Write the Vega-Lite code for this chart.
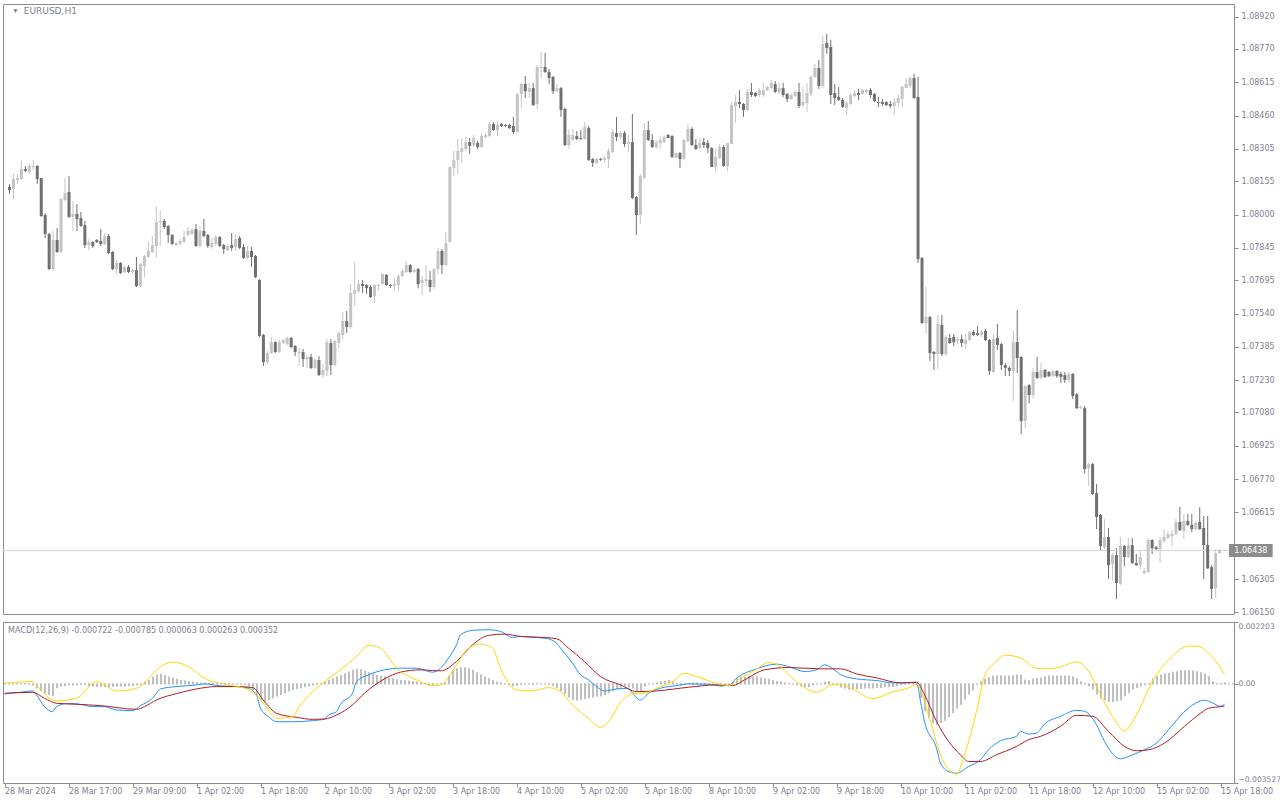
{
"$schema": "https://vega.github.io/schema/vega-lite/v6.json",
"background": "white",
"padding": {"left": 2, "top": 3, "right": 0, "bottom": 0},
"spacing": 4,
"config": {
  "view": {"stroke": "#8c8c8c", "strokeWidth": 1},
  "font": "DejaVu Sans",
  "axis": {"labelFont": "DejaVu Sans", "labelFontSize": 8, "labelColor": "#80808f", "tickColor": "#8c8c8c", "domain": false, "grid": false, "title": null, "tickSize": 4, "labelBound": false, "labelOverlap": false}
},
"datasets": {
"one": [{"k": 1}],
"candles": [
{"i":0,"o":1.08128,"h":1.08142,"l":1.08096,"c":1.08114},
{"i":1,"o":1.08119,"h":1.08189,"l":1.08072,"c":1.08165},
{"i":2,"o":1.08161,"h":1.08189,"l":1.08142,"c":1.08170},
{"i":3,"o":1.08165,"h":1.08249,"l":1.08161,"c":1.08212},
{"i":4,"o":1.08212,"h":1.08226,"l":1.08198,"c":1.08203},
{"i":5,"o":1.08198,"h":1.08235,"l":1.08189,"c":1.08226},
{"i":6,"o":1.08221,"h":1.08254,"l":1.08207,"c":1.08226},
{"i":7,"o":1.08226,"h":1.08230,"l":1.08142,"c":1.08165},
{"i":8,"o":1.08170,"h":1.08170,"l":1.07989,"c":1.07993},
{"i":9,"o":1.07998,"h":1.08007,"l":1.07891,"c":1.07910},
{"i":10,"o":1.07910,"h":1.07914,"l":1.07742,"c":1.07747},
{"i":11,"o":1.07747,"h":1.07924,"l":1.07738,"c":1.07882},
{"i":12,"o":1.07882,"h":1.07937,"l":1.07821,"c":1.07826},
{"i":13,"o":1.07826,"h":1.08077,"l":1.07821,"c":1.08072},
{"i":14,"o":1.08068,"h":1.08170,"l":1.08063,"c":1.08100},
{"i":15,"o":1.08105,"h":1.08179,"l":1.07984,"c":1.07989},
{"i":16,"o":1.07989,"h":1.08063,"l":1.07924,"c":1.08003},
{"i":17,"o":1.08003,"h":1.08049,"l":1.07924,"c":1.07979},
{"i":18,"o":1.07984,"h":1.08012,"l":1.07942,"c":1.07947},
{"i":19,"o":1.07951,"h":1.07970,"l":1.07845,"c":1.07858},
{"i":20,"o":1.07858,"h":1.07886,"l":1.07835,"c":1.07872},
{"i":21,"o":1.07872,"h":1.07877,"l":1.07845,"c":1.07854},
{"i":22,"o":1.07882,"h":1.07886,"l":1.07868,"c":1.07872},
{"i":23,"o":1.07877,"h":1.07933,"l":1.07854,"c":1.07863},
{"i":24,"o":1.07863,"h":1.07914,"l":1.07858,"c":1.07900},
{"i":25,"o":1.07900,"h":1.07910,"l":1.07817,"c":1.07821},
{"i":26,"o":1.07826,"h":1.07831,"l":1.07742,"c":1.07747},
{"i":27,"o":1.07747,"h":1.07789,"l":1.07724,"c":1.07775},
{"i":28,"o":1.07775,"h":1.07779,"l":1.07724,"c":1.07728},
{"i":29,"o":1.07733,"h":1.07761,"l":1.07728,"c":1.07756},
{"i":30,"o":1.07756,"h":1.07765,"l":1.07728,"c":1.07733},
{"i":31,"o":1.07733,"h":1.07747,"l":1.07728,"c":1.07742},
{"i":32,"o":1.07742,"h":1.07803,"l":1.07663,"c":1.07668},
{"i":33,"o":1.07668,"h":1.07775,"l":1.07663,"c":1.07770},
{"i":34,"o":1.07761,"h":1.07812,"l":1.07709,"c":1.07807},
{"i":35,"o":1.07803,"h":1.07877,"l":1.07798,"c":1.07831},
{"i":36,"o":1.07826,"h":1.07900,"l":1.07821,"c":1.07858},
{"i":37,"o":1.07854,"h":1.08040,"l":1.07798,"c":1.07965},
{"i":38,"o":1.07965,"h":1.08017,"l":1.07854,"c":1.07970},
{"i":39,"o":1.07970,"h":1.07979,"l":1.07933,"c":1.07942},
{"i":40,"o":1.07947,"h":1.07951,"l":1.07868,"c":1.07905},
{"i":41,"o":1.07905,"h":1.07910,"l":1.07858,"c":1.07863},
{"i":42,"o":1.07858,"h":1.07872,"l":1.07854,"c":1.07868},
{"i":43,"o":1.07863,"h":1.07886,"l":1.07858,"c":1.07877},
{"i":44,"o":1.07872,"h":1.07924,"l":1.07868,"c":1.07896},
{"i":45,"o":1.07905,"h":1.07942,"l":1.07900,"c":1.07924},
{"i":46,"o":1.07910,"h":1.07937,"l":1.07905,"c":1.07928},
{"i":47,"o":1.07933,"h":1.07956,"l":1.07849,"c":1.07854},
{"i":48,"o":1.07854,"h":1.07947,"l":1.07845,"c":1.07924},
{"i":49,"o":1.07924,"h":1.07979,"l":1.07896,"c":1.07900},
{"i":50,"o":1.07905,"h":1.07910,"l":1.07845,"c":1.07854},
{"i":51,"o":1.07849,"h":1.07891,"l":1.07840,"c":1.07868},
{"i":52,"o":1.07863,"h":1.07905,"l":1.07854,"c":1.07896},
{"i":53,"o":1.07896,"h":1.07900,"l":1.07849,"c":1.07854},
{"i":54,"o":1.07858,"h":1.07863,"l":1.07817,"c":1.07840},
{"i":55,"o":1.07835,"h":1.07863,"l":1.07831,"c":1.07854},
{"i":56,"o":1.07858,"h":1.07914,"l":1.07831,"c":1.07845},
{"i":57,"o":1.07849,"h":1.07910,"l":1.07831,"c":1.07886},
{"i":58,"o":1.07891,"h":1.07900,"l":1.07840,"c":1.07845},
{"i":59,"o":1.07849,"h":1.07863,"l":1.07793,"c":1.07798},
{"i":60,"o":1.07798,"h":1.07854,"l":1.07793,"c":1.07831},
{"i":61,"o":1.07831,"h":1.07849,"l":1.07756,"c":1.07803},
{"i":62,"o":1.07807,"h":1.07812,"l":1.07705,"c":1.07709},
{"i":63,"o":1.07696,"h":1.07700,"l":1.07431,"c":1.07435},
{"i":64,"o":1.07440,"h":1.07445,"l":1.07296,"c":1.07314},
{"i":65,"o":1.07314,"h":1.07366,"l":1.07305,"c":1.07356},
{"i":66,"o":1.07356,"h":1.07431,"l":1.07352,"c":1.07407},
{"i":67,"o":1.07407,"h":1.07412,"l":1.07356,"c":1.07361},
{"i":68,"o":1.07361,"h":1.07417,"l":1.07356,"c":1.07407},
{"i":69,"o":1.07403,"h":1.07421,"l":1.07398,"c":1.07417},
{"i":70,"o":1.07398,"h":1.07431,"l":1.07393,"c":1.07426},
{"i":71,"o":1.07426,"h":1.07431,"l":1.07379,"c":1.07384},
{"i":72,"o":1.07389,"h":1.07393,"l":1.07342,"c":1.07361},
{"i":73,"o":1.07356,"h":1.07379,"l":1.07296,"c":1.07361},
{"i":74,"o":1.07361,"h":1.07375,"l":1.07291,"c":1.07328},
{"i":75,"o":1.07328,"h":1.07347,"l":1.07287,"c":1.07338},
{"i":76,"o":1.07338,"h":1.07352,"l":1.07282,"c":1.07287},
{"i":77,"o":1.07287,"h":1.07333,"l":1.07282,"c":1.07324},
{"i":78,"o":1.07324,"h":1.07342,"l":1.07249,"c":1.07254},
{"i":79,"o":1.07254,"h":1.07305,"l":1.07240,"c":1.07277},
{"i":80,"o":1.07273,"h":1.07421,"l":1.07249,"c":1.07407},
{"i":81,"o":1.07403,"h":1.07421,"l":1.07254,"c":1.07300},
{"i":82,"o":1.07300,"h":1.07417,"l":1.07296,"c":1.07412},
{"i":83,"o":1.07403,"h":1.07454,"l":1.07379,"c":1.07449},
{"i":84,"o":1.07440,"h":1.07547,"l":1.07421,"c":1.07505},
{"i":85,"o":1.07505,"h":1.07552,"l":1.07449,"c":1.07477},
{"i":86,"o":1.07477,"h":1.07677,"l":1.07468,"c":1.07635},
{"i":87,"o":1.07631,"h":1.07779,"l":1.07575,"c":1.07649},
{"i":88,"o":1.07644,"h":1.07696,"l":1.07635,"c":1.07677},
{"i":89,"o":1.07677,"h":1.07696,"l":1.07635,"c":1.07668},
{"i":90,"o":1.07672,"h":1.07677,"l":1.07631,"c":1.07658},
{"i":91,"o":1.07663,"h":1.07672,"l":1.07612,"c":1.07617},
{"i":92,"o":1.07621,"h":1.07677,"l":1.07589,"c":1.07672},
{"i":93,"o":1.07668,"h":1.07677,"l":1.07649,"c":1.07672},
{"i":94,"o":1.07677,"h":1.07724,"l":1.07672,"c":1.07724},
{"i":95,"o":1.07719,"h":1.07724,"l":1.07668,"c":1.07672},
{"i":96,"o":1.07672,"h":1.07677,"l":1.07658,"c":1.07668},
{"i":97,"o":1.07668,"h":1.07705,"l":1.07644,"c":1.07677},
{"i":98,"o":1.07672,"h":1.07724,"l":1.07649,"c":1.07714},
{"i":99,"o":1.07714,"h":1.07747,"l":1.07709,"c":1.07738},
{"i":100,"o":1.07733,"h":1.07784,"l":1.07728,"c":1.07765},
{"i":101,"o":1.07765,"h":1.07770,"l":1.07728,"c":1.07733},
{"i":102,"o":1.07733,"h":1.07751,"l":1.07728,"c":1.07742},
{"i":103,"o":1.07747,"h":1.07751,"l":1.07658,"c":1.07677},
{"i":104,"o":1.07682,"h":1.07714,"l":1.07626,"c":1.07696},
{"i":105,"o":1.07691,"h":1.07765,"l":1.07668,"c":1.07700},
{"i":106,"o":1.07696,"h":1.07738,"l":1.07640,"c":1.07663},
{"i":107,"o":1.07663,"h":1.07751,"l":1.07654,"c":1.07747},
{"i":108,"o":1.07747,"h":1.07845,"l":1.07724,"c":1.07831},
{"i":109,"o":1.07831,"h":1.07840,"l":1.07724,"c":1.07765},
{"i":110,"o":1.07765,"h":1.07919,"l":1.07761,"c":1.07868},
{"i":111,"o":1.07872,"h":1.08226,"l":1.07872,"c":1.08221},
{"i":112,"o":1.08216,"h":1.08296,"l":1.08179,"c":1.08254},
{"i":113,"o":1.08254,"h":1.08351,"l":1.08189,"c":1.08296},
{"i":114,"o":1.08291,"h":1.08356,"l":1.08240,"c":1.08309},
{"i":115,"o":1.08305,"h":1.08361,"l":1.08296,"c":1.08337},
{"i":116,"o":1.08337,"h":1.08356,"l":1.08282,"c":1.08319},
{"i":117,"o":1.08323,"h":1.08370,"l":1.08314,"c":1.08356},
{"i":118,"o":1.08333,"h":1.08342,"l":1.08305,"c":1.08314},
{"i":119,"o":1.08314,"h":1.08375,"l":1.08309,"c":1.08365},
{"i":120,"o":1.08361,"h":1.08379,"l":1.08351,"c":1.08370},
{"i":121,"o":1.08365,"h":1.08430,"l":1.08361,"c":1.08421},
{"i":122,"o":1.08421,"h":1.08430,"l":1.08389,"c":1.08393},
{"i":123,"o":1.08393,"h":1.08435,"l":1.08365,"c":1.08416},
{"i":124,"o":1.08421,"h":1.08426,"l":1.08407,"c":1.08412},
{"i":125,"o":1.08416,"h":1.08421,"l":1.08407,"c":1.08412},
{"i":126,"o":1.08416,"h":1.08421,"l":1.08398,"c":1.08402},
{"i":127,"o":1.08412,"h":1.08454,"l":1.08375,"c":1.08384},
{"i":128,"o":1.08384,"h":1.08565,"l":1.08379,"c":1.08561},
{"i":129,"o":1.08561,"h":1.08612,"l":1.08496,"c":1.08607},
{"i":130,"o":1.08607,"h":1.08644,"l":1.08542,"c":1.08574},
{"i":131,"o":1.08570,"h":1.08612,"l":1.08542,"c":1.08588},
{"i":132,"o":1.08588,"h":1.08612,"l":1.08505,"c":1.08509},
{"i":133,"o":1.08514,"h":1.08695,"l":1.08491,"c":1.08686},
{"i":134,"o":1.08681,"h":1.08756,"l":1.08635,"c":1.08686},
{"i":135,"o":1.08686,"h":1.08751,"l":1.08658,"c":1.08663},
{"i":136,"o":1.08663,"h":1.08677,"l":1.08607,"c":1.08635},
{"i":137,"o":1.08640,"h":1.08644,"l":1.08561,"c":1.08574},
{"i":138,"o":1.08574,"h":1.08607,"l":1.08570,"c":1.08588},
{"i":139,"o":1.08588,"h":1.08593,"l":1.08454,"c":1.08486},
{"i":140,"o":1.08491,"h":1.08496,"l":1.08319,"c":1.08323},
{"i":141,"o":1.08323,"h":1.08398,"l":1.08305,"c":1.08370},
{"i":142,"o":1.08347,"h":1.08398,"l":1.08342,"c":1.08370},
{"i":143,"o":1.08365,"h":1.08389,"l":1.08347,"c":1.08351},
{"i":144,"o":1.08356,"h":1.08393,"l":1.08347,"c":1.08351},
{"i":145,"o":1.08351,"h":1.08430,"l":1.08347,"c":1.08407},
{"i":146,"o":1.08402,"h":1.08412,"l":1.08249,"c":1.08254},
{"i":147,"o":1.08258,"h":1.08263,"l":1.08221,"c":1.08240},
{"i":148,"o":1.08240,"h":1.08263,"l":1.08235,"c":1.08258},
{"i":149,"o":1.08258,"h":1.08263,"l":1.08249,"c":1.08254},
{"i":150,"o":1.08254,"h":1.08272,"l":1.08240,"c":1.08263},
{"i":151,"o":1.08258,"h":1.08309,"l":1.08216,"c":1.08296},
{"i":152,"o":1.08291,"h":1.08398,"l":1.08286,"c":1.08384},
{"i":153,"o":1.08379,"h":1.08454,"l":1.08342,"c":1.08361},
{"i":154,"o":1.08361,"h":1.08389,"l":1.08351,"c":1.08379},
{"i":155,"o":1.08379,"h":1.08389,"l":1.08314,"c":1.08328},
{"i":156,"o":1.08328,"h":1.08370,"l":1.08291,"c":1.08337},
{"i":157,"o":1.08337,"h":1.08468,"l":1.08072,"c":1.08077},
{"i":158,"o":1.08082,"h":1.08086,"l":1.07905,"c":1.07998},
{"i":159,"o":1.07998,"h":1.08189,"l":1.07956,"c":1.08179},
{"i":160,"o":1.08170,"h":1.08426,"l":1.08165,"c":1.08393},
{"i":161,"o":1.08393,"h":1.08435,"l":1.08342,"c":1.08347},
{"i":162,"o":1.08347,"h":1.08375,"l":1.08309,"c":1.08314},
{"i":163,"o":1.08314,"h":1.08347,"l":1.08305,"c":1.08337},
{"i":164,"o":1.08333,"h":1.08365,"l":1.08305,"c":1.08347},
{"i":165,"o":1.08337,"h":1.08370,"l":1.08333,"c":1.08361},
{"i":166,"o":1.08370,"h":1.08375,"l":1.08356,"c":1.08356},
{"i":167,"o":1.08365,"h":1.08370,"l":1.08263,"c":1.08268},
{"i":168,"o":1.08263,"h":1.08286,"l":1.08263,"c":1.08286},
{"i":169,"o":1.08286,"h":1.08291,"l":1.08216,"c":1.08258},
{"i":170,"o":1.08258,"h":1.08351,"l":1.08254,"c":1.08347},
{"i":171,"o":1.08342,"h":1.08421,"l":1.08333,"c":1.08398},
{"i":172,"o":1.08398,"h":1.08407,"l":1.08319,"c":1.08323},
{"i":173,"o":1.08323,"h":1.08351,"l":1.08300,"c":1.08305},
{"i":174,"o":1.08309,"h":1.08356,"l":1.08305,"c":1.08333},
{"i":175,"o":1.08337,"h":1.08356,"l":1.08309,"c":1.08323},
{"i":176,"o":1.08333,"h":1.08347,"l":1.08286,"c":1.08309},
{"i":177,"o":1.08309,"h":1.08314,"l":1.08221,"c":1.08221},
{"i":178,"o":1.08221,"h":1.08309,"l":1.08198,"c":1.08268},
{"i":179,"o":1.08263,"h":1.08328,"l":1.08258,"c":1.08314},
{"i":180,"o":1.08314,"h":1.08323,"l":1.08221,"c":1.08226},
{"i":181,"o":1.08226,"h":1.08333,"l":1.08203,"c":1.08333},
{"i":182,"o":1.08328,"h":1.08523,"l":1.08328,"c":1.08509},
{"i":183,"o":1.08505,"h":1.08556,"l":1.08426,"c":1.08523},
{"i":184,"o":1.08523,"h":1.08579,"l":1.08496,"c":1.08514},
{"i":185,"o":1.08514,"h":1.08519,"l":1.08454,"c":1.08486},
{"i":186,"o":1.08486,"h":1.08584,"l":1.08482,"c":1.08570},
{"i":187,"o":1.08570,"h":1.08612,"l":1.08547,"c":1.08556},
{"i":188,"o":1.08565,"h":1.08570,"l":1.08547,"c":1.08551},
{"i":189,"o":1.08556,"h":1.08588,"l":1.08547,"c":1.08579},
{"i":190,"o":1.08556,"h":1.08612,"l":1.08547,"c":1.08579},
{"i":191,"o":1.08579,"h":1.08598,"l":1.08574,"c":1.08593},
{"i":192,"o":1.08588,"h":1.08626,"l":1.08584,"c":1.08612},
{"i":193,"o":1.08607,"h":1.08621,"l":1.08565,"c":1.08570},
{"i":194,"o":1.08570,"h":1.08612,"l":1.08561,"c":1.08588},
{"i":195,"o":1.08588,"h":1.08612,"l":1.08547,"c":1.08556},
{"i":196,"o":1.08561,"h":1.08565,"l":1.08523,"c":1.08537},
{"i":197,"o":1.08537,"h":1.08561,"l":1.08533,"c":1.08556},
{"i":198,"o":1.08551,"h":1.08579,"l":1.08547,"c":1.08570},
{"i":199,"o":1.08570,"h":1.08612,"l":1.08496,"c":1.08505},
{"i":200,"o":1.08509,"h":1.08593,"l":1.08500,"c":1.08523},
{"i":201,"o":1.08519,"h":1.08612,"l":1.08477,"c":1.08565},
{"i":202,"o":1.08561,"h":1.08649,"l":1.08551,"c":1.08640},
{"i":203,"o":1.08640,"h":1.08700,"l":1.08635,"c":1.08681},
{"i":204,"o":1.08681,"h":1.08719,"l":1.08584,"c":1.08598},
{"i":205,"o":1.08598,"h":1.08830,"l":1.08588,"c":1.08793},
{"i":206,"o":1.08798,"h":1.08840,"l":1.08747,"c":1.08774},
{"i":207,"o":1.08779,"h":1.08812,"l":1.08514,"c":1.08556},
{"i":208,"o":1.08565,"h":1.08607,"l":1.08509,"c":1.08542},
{"i":209,"o":1.08547,"h":1.08593,"l":1.08528,"c":1.08533},
{"i":210,"o":1.08533,"h":1.08542,"l":1.08496,"c":1.08500},
{"i":211,"o":1.08496,"h":1.08528,"l":1.08463,"c":1.08519},
{"i":212,"o":1.08514,"h":1.08565,"l":1.08509,"c":1.08556},
{"i":213,"o":1.08551,"h":1.08579,"l":1.08547,"c":1.08565},
{"i":214,"o":1.08565,"h":1.08584,"l":1.08533,"c":1.08556},
{"i":215,"o":1.08561,"h":1.08584,"l":1.08561,"c":1.08579},
{"i":216,"o":1.08570,"h":1.08584,"l":1.08565,"c":1.08579},
{"i":217,"o":1.08579,"h":1.08588,"l":1.08542,"c":1.08556},
{"i":218,"o":1.08561,"h":1.08565,"l":1.08523,"c":1.08528},
{"i":219,"o":1.08523,"h":1.08547,"l":1.08500,"c":1.08519},
{"i":220,"o":1.08523,"h":1.08537,"l":1.08505,"c":1.08514},
{"i":221,"o":1.08523,"h":1.08528,"l":1.08505,"c":1.08509},
{"i":222,"o":1.08514,"h":1.08528,"l":1.08496,"c":1.08505},
{"i":223,"o":1.08505,"h":1.08542,"l":1.08463,"c":1.08523},
{"i":224,"o":1.08519,"h":1.08556,"l":1.08500,"c":1.08542},
{"i":225,"o":1.08537,"h":1.08598,"l":1.08500,"c":1.08593},
{"i":226,"o":1.08588,"h":1.08635,"l":1.08588,"c":1.08607},
{"i":227,"o":1.08598,"h":1.08644,"l":1.08588,"c":1.08635},
{"i":228,"o":1.08635,"h":1.08654,"l":1.08537,"c":1.08542},
{"i":229,"o":1.08547,"h":1.08640,"l":1.07775,"c":1.07793},
{"i":230,"o":1.07798,"h":1.07803,"l":1.07491,"c":1.07496},
{"i":231,"o":1.07496,"h":1.07663,"l":1.07449,"c":1.07524},
{"i":232,"o":1.07524,"h":1.07528,"l":1.07319,"c":1.07356},
{"i":233,"o":1.07361,"h":1.07366,"l":1.07277,"c":1.07352},
{"i":234,"o":1.07352,"h":1.07533,"l":1.07282,"c":1.07491},
{"i":235,"o":1.07487,"h":1.07533,"l":1.07342,"c":1.07352},
{"i":236,"o":1.07352,"h":1.07440,"l":1.07342,"c":1.07431},
{"i":237,"o":1.07426,"h":1.07445,"l":1.07398,"c":1.07403},
{"i":238,"o":1.07431,"h":1.07445,"l":1.07389,"c":1.07407},
{"i":239,"o":1.07412,"h":1.07431,"l":1.07398,"c":1.07421},
{"i":240,"o":1.07421,"h":1.07440,"l":1.07384,"c":1.07403},
{"i":241,"o":1.07398,"h":1.07445,"l":1.07375,"c":1.07417},
{"i":242,"o":1.07417,"h":1.07459,"l":1.07412,"c":1.07454},
{"i":243,"o":1.07454,"h":1.07463,"l":1.07435,"c":1.07440},
{"i":244,"o":1.07449,"h":1.07482,"l":1.07435,"c":1.07440},
{"i":245,"o":1.07440,"h":1.07463,"l":1.07431,"c":1.07454},
{"i":246,"o":1.07459,"h":1.07468,"l":1.07412,"c":1.07417},
{"i":247,"o":1.07417,"h":1.07421,"l":1.07254,"c":1.07273},
{"i":248,"o":1.07268,"h":1.07445,"l":1.07263,"c":1.07421},
{"i":249,"o":1.07426,"h":1.07491,"l":1.07370,"c":1.07393},
{"i":250,"o":1.07398,"h":1.07403,"l":1.07277,"c":1.07300},
{"i":251,"o":1.07300,"h":1.07310,"l":1.07249,"c":1.07287},
{"i":252,"o":1.07287,"h":1.07296,"l":1.07249,"c":1.07273},
{"i":253,"o":1.07273,"h":1.07459,"l":1.07133,"c":1.07407},
{"i":254,"o":1.07407,"h":1.07556,"l":1.07263,"c":1.07333},
{"i":255,"o":1.07338,"h":1.07342,"l":1.06980,"c":1.07040},
{"i":256,"o":1.07040,"h":1.07207,"l":1.07007,"c":1.07203},
{"i":257,"o":1.07207,"h":1.07212,"l":1.07124,"c":1.07161},
{"i":258,"o":1.07161,"h":1.07287,"l":1.07147,"c":1.07268},
{"i":259,"o":1.07268,"h":1.07338,"l":1.07235,"c":1.07240},
{"i":260,"o":1.07240,"h":1.07310,"l":1.07235,"c":1.07277},
{"i":261,"o":1.07277,"h":1.07282,"l":1.07240,"c":1.07245},
{"i":262,"o":1.07268,"h":1.07273,"l":1.07245,"c":1.07249},
{"i":263,"o":1.07249,"h":1.07277,"l":1.07245,"c":1.07273},
{"i":264,"o":1.07273,"h":1.07277,"l":1.07240,"c":1.07249},
{"i":265,"o":1.07259,"h":1.07268,"l":1.07217,"c":1.07245},
{"i":266,"o":1.07254,"h":1.07268,"l":1.07217,"c":1.07231},
{"i":267,"o":1.07231,"h":1.07268,"l":1.07217,"c":1.07259},
{"i":268,"o":1.07259,"h":1.07263,"l":1.07142,"c":1.07156},
{"i":269,"o":1.07165,"h":1.07170,"l":1.07096,"c":1.07100},
{"i":270,"o":1.07100,"h":1.07114,"l":1.07096,"c":1.07105},
{"i":271,"o":1.07100,"h":1.07110,"l":1.06798,"c":1.06817},
{"i":272,"o":1.06821,"h":1.06845,"l":1.06738,"c":1.06840},
{"i":273,"o":1.06840,"h":1.06845,"l":1.06696,"c":1.06701},
{"i":274,"o":1.06705,"h":1.06747,"l":1.06538,"c":1.06594},
{"i":275,"o":1.06603,"h":1.06608,"l":1.06440,"c":1.06459},
{"i":276,"o":1.06454,"h":1.06584,"l":1.06445,"c":1.06501},
{"i":277,"o":1.06501,"h":1.06543,"l":1.06305,"c":1.06370},
{"i":278,"o":1.06375,"h":1.06426,"l":1.06301,"c":1.06417},
{"i":279,"o":1.06417,"h":1.06449,"l":1.06212,"c":1.06287},
{"i":280,"o":1.06283,"h":1.06501,"l":1.06278,"c":1.06459},
{"i":281,"o":1.06459,"h":1.06463,"l":1.06366,"c":1.06408},
{"i":282,"o":1.06408,"h":1.06496,"l":1.06403,"c":1.06463},
{"i":283,"o":1.06463,"h":1.06496,"l":1.06375,"c":1.06380},
{"i":284,"o":1.06380,"h":1.06422,"l":1.06366,"c":1.06370},
{"i":285,"o":1.06370,"h":1.06436,"l":1.06352,"c":1.06408},
{"i":286,"o":1.06333,"h":1.06356,"l":1.06328,"c":1.06343},
{"i":287,"o":1.06338,"h":1.06496,"l":1.06333,"c":1.06487},
{"i":288,"o":1.06487,"h":1.06491,"l":1.06422,"c":1.06449},
{"i":289,"o":1.06454,"h":1.06459,"l":1.06440,"c":1.06445},
{"i":290,"o":1.06445,"h":1.06501,"l":1.06380,"c":1.06487},
{"i":291,"o":1.06482,"h":1.06538,"l":1.06473,"c":1.06501},
{"i":292,"o":1.06496,"h":1.06529,"l":1.06491,"c":1.06515},
{"i":293,"o":1.06505,"h":1.06533,"l":1.06459,"c":1.06515},
{"i":294,"o":1.06515,"h":1.06584,"l":1.06510,"c":1.06571},
{"i":295,"o":1.06571,"h":1.06640,"l":1.06529,"c":1.06533},
{"i":296,"o":1.06529,"h":1.06608,"l":1.06491,"c":1.06575},
{"i":297,"o":1.06575,"h":1.06608,"l":1.06552,"c":1.06557},
{"i":298,"o":1.06557,"h":1.06608,"l":1.06524,"c":1.06538},
{"i":299,"o":1.06538,"h":1.06575,"l":1.06533,"c":1.06566},
{"i":300,"o":1.06571,"h":1.06640,"l":1.06533,"c":1.06538},
{"i":301,"o":1.06543,"h":1.06598,"l":1.06305,"c":1.06463},
{"i":302,"o":1.06463,"h":1.06598,"l":1.06352,"c":1.06356},
{"i":303,"o":1.06361,"h":1.06370,"l":1.06212,"c":1.06259},
{"i":304,"o":1.06263,"h":1.06445,"l":1.06221,"c":1.06426},
{"i":305,"o":1.06426,"h":1.06445,"l":1.06422,"c":1.06438}
],
"hist": [
{"i":0,"v":0.000024},{"i":1,"v":0.000024},{"i":2,"v":0.000024},{"i":3,"v":0.000024},{"i":4,"v":0.000024},{"i":5,"v":0.000024},{"i":6,"v":0.000024},{"i":7,"v":-0.00006},{"i":8,"v":-0.000155},{"i":9,"v":-0.00025},
{"i":10,"v":-0.000333},{"i":11,"v":-0.000393},{"i":12,"v":-0.000428},{"i":13,"v":-0.000155},{"i":14,"v":-0.000095},{"i":15,"v":-0.000071},{"i":16,"v":-0.00006},{"i":17,"v":-0.00006},{"i":18,"v":-0.000048},{"i":19,"v":-0.000036},
{"i":20,"v":-0.000036},{"i":21,"v":-0.000083},{"i":22,"v":-0.000095},{"i":23,"v":-0.000107},{"i":24,"v":-0.000107},{"i":25,"v":-0.000107},{"i":26,"v":-0.000107},{"i":27,"v":-0.000107},{"i":28,"v":-0.000095},{"i":29,"v":-0.000095},
{"i":30,"v":-0.000095},{"i":31,"v":-0.000083},{"i":32,"v":-0.000071},{"i":33,"v":-0.000048},{"i":34,"v":-0.000024},{"i":35,"v":0.000083},{"i":36,"v":0.000143},{"i":37,"v":0.000262},{"i":38,"v":0.000345},{"i":39,"v":0.000357},
{"i":40,"v":0.000321},{"i":41,"v":0.000262},{"i":42,"v":0.000226},{"i":43,"v":0.000179},{"i":44,"v":0.000143},{"i":45,"v":0.000131},{"i":46,"v":0.000107},{"i":47,"v":0.000083},{"i":48,"v":0.00006},{"i":49,"v":0.000048},
{"i":50,"v":0.000048},{"i":51,"v":0.000036},{"i":52,"v":0.000036},{"i":53,"v":0.000024},{"i":54,"v":0.000024},{"i":55,"v":0.000024},{"i":56,"v":0.000012},{"i":57,"v":0.000004},{"i":58,"v":-0.000012},{"i":59,"v":-0.000012},
{"i":60,"v":-0.000024},{"i":61,"v":-0.000095},{"i":62,"v":-0.000214},{"i":63,"v":-0.000393},{"i":64,"v":-0.000571},{"i":65,"v":-0.000655},{"i":66,"v":-0.000571},{"i":67,"v":-0.000512},{"i":68,"v":-0.000452},{"i":69,"v":-0.000393},
{"i":70,"v":-0.000333},{"i":71,"v":-0.000274},{"i":72,"v":-0.000214},{"i":73,"v":-0.000179},{"i":74,"v":-0.000155},{"i":75,"v":-0.000119},{"i":76,"v":-0.000083},{"i":77,"v":-0.00006},{"i":78,"v":-0.000036},{"i":79,"v":-0.000012},
{"i":80,"v":0.000083},{"i":81,"v":0.000143},{"i":82,"v":0.000202},{"i":83,"v":0.000262},{"i":84,"v":0.000321},{"i":85,"v":0.000381},{"i":86,"v":0.00044},{"i":87,"v":0.0005},{"i":88,"v":0.000536},{"i":89,"v":0.000524},
{"i":90,"v":0.000464},{"i":91,"v":0.000417},{"i":92,"v":0.000369},{"i":93,"v":0.000321},{"i":94,"v":0.000286},{"i":95,"v":0.000262},{"i":96,"v":0.000226},{"i":97,"v":0.000202},{"i":98,"v":0.000167},{"i":99,"v":0.000143},
{"i":100,"v":0.000131},{"i":101,"v":0.000119},{"i":102,"v":0.000107},{"i":103,"v":0.000083},{"i":104,"v":0.00006},{"i":105,"v":0.000036},{"i":106,"v":-0.000036},{"i":107,"v":-0.000036},{"i":108,"v":-0.000012},{"i":109,"v":0.000012},
{"i":110,"v":0.00006},{"i":111,"v":0.000298},{"i":112,"v":0.000464},{"i":113,"v":0.000559},{"i":114,"v":0.000595},{"i":115,"v":0.000595},{"i":116,"v":0.000559},{"i":117,"v":0.0005},{"i":118,"v":0.000417},{"i":119,"v":0.000345},
{"i":120,"v":0.000262},{"i":121,"v":0.000202},{"i":122,"v":0.000143},{"i":123,"v":0.000083},{"i":124,"v":0.000048},{"i":125,"v":0.000024},{"i":126,"v":-0.00006},{"i":127,"v":-0.000095},{"i":128,"v":-0.000071},{"i":129,"v":-0.000036},
{"i":130,"v":-0.000012},{"i":131,"v":0.000012},{"i":132,"v":-0.000036},{"i":133,"v":0.000012},{"i":134,"v":-0.000012},{"i":135,"v":-0.000012},{"i":136,"v":-0.000036},{"i":137,"v":-0.000071},{"i":138,"v":-0.000155},{"i":139,"v":-0.00025},
{"i":140,"v":-0.000369},{"i":141,"v":-0.000488},{"i":142,"v":-0.000571},{"i":143,"v":-0.000595},{"i":144,"v":-0.000571},{"i":145,"v":-0.000547},{"i":146,"v":-0.000512},{"i":147,"v":-0.000488},{"i":148,"v":-0.000452},{"i":149,"v":-0.000452},
{"i":150,"v":-0.000393},{"i":151,"v":-0.000333},{"i":152,"v":-0.000274},{"i":153,"v":-0.00019},{"i":154,"v":-0.000131},{"i":155,"v":-0.000095},{"i":156,"v":-0.000119},{"i":157,"v":-0.000155},{"i":158,"v":-0.000274},{"i":159,"v":-0.00025},
{"i":160,"v":-0.000095},{"i":161,"v":-0.000012},{"i":162,"v":0.000024},{"i":163,"v":0.000048},{"i":164,"v":0.000083},{"i":165,"v":0.000107},{"i":166,"v":0.000143},{"i":167,"v":0.000083},{"i":168,"v":0.000024},{"i":169,"v":-0.000071},
{"i":170,"v":-0.000036},{"i":171,"v":0.000024},{"i":172,"v":0.000048},{"i":173,"v":0.000048},{"i":174,"v":0.000024},{"i":175,"v":0.000012},{"i":176,"v":-0.000012},{"i":177,"v":-0.000036},{"i":178,"v":-0.000071},{"i":179,"v":-0.000095},
{"i":180,"v":-0.000071},{"i":181,"v":-0.000036},{"i":182,"v":0.000083},{"i":183,"v":0.000202},{"i":184,"v":0.000262},{"i":185,"v":0.000262},{"i":186,"v":0.000286},{"i":187,"v":0.000262},{"i":188,"v":0.000262},{"i":189,"v":0.000226},
{"i":190,"v":0.000202},{"i":191,"v":0.000179},{"i":192,"v":0.000143},{"i":193,"v":0.000107},{"i":194,"v":0.000083},{"i":195,"v":0.000048},{"i":196,"v":0.000024},{"i":197,"v":0.000012},{"i":198,"v":-0.00006},{"i":199,"v":-0.000095},
{"i":200,"v":-0.000119},{"i":201,"v":-0.000119},{"i":202,"v":-0.00006},{"i":203,"v":-0.000012},{"i":204,"v":0.000024},{"i":205,"v":0.000083},{"i":206,"v":0.000107},{"i":207,"v":0.000012},{"i":208,"v":-0.00006},{"i":209,"v":-0.000131},
{"i":210,"v":-0.000167},{"i":211,"v":-0.000202},{"i":212,"v":-0.000202},{"i":213,"v":-0.000202},{"i":214,"v":-0.000179},{"i":215,"v":-0.000167},{"i":216,"v":-0.000167},{"i":217,"v":-0.000167},{"i":218,"v":-0.000143},{"i":219,"v":-0.000143},
{"i":220,"v":-0.000119},{"i":221,"v":-0.000119},{"i":222,"v":-0.000107},{"i":223,"v":-0.000083},{"i":224,"v":-0.00006},{"i":225,"v":-0.000024},{"i":226,"v":0.000012},{"i":227,"v":0.000036},{"i":228,"v":-0.000024},{"i":229,"v":-0.0005},
{"i":230,"v":-0.000976},{"i":231,"v":-0.001214},{"i":232,"v":-0.001392},{"i":233,"v":-0.001452},{"i":234,"v":-0.001392},{"i":235,"v":-0.001309},{"i":236,"v":-0.00119},{"i":237,"v":-0.001035},{"i":238,"v":-0.000881},{"i":239,"v":-0.000738},
{"i":240,"v":-0.000559},{"i":241,"v":-0.000381},{"i":242,"v":-0.000238},{"i":243,"v":-0.000024},{"i":244,"v":0.000095},{"i":245,"v":0.000179},{"i":246,"v":0.000238},{"i":247,"v":0.000298},{"i":248,"v":0.000309},{"i":249,"v":0.000309},
{"i":250,"v":0.000298},{"i":251,"v":0.000298},{"i":252,"v":0.000309},{"i":253,"v":0.000333},{"i":254,"v":0.000333},{"i":255,"v":0.000155},{"i":256,"v":0.000131},{"i":257,"v":0.00019},{"i":258,"v":0.000214},{"i":259,"v":0.000238},
{"i":260,"v":0.000274},{"i":261,"v":0.000298},{"i":262,"v":0.000298},{"i":263,"v":0.000298},{"i":264,"v":0.000298},{"i":265,"v":0.000298},{"i":266,"v":0.000298},{"i":267,"v":0.000274},{"i":268,"v":0.00019},{"i":269,"v":0.000095},
{"i":270,"v":0.000036},{"i":271,"v":-0.000083},{"i":272,"v":-0.000202},{"i":273,"v":-0.000381},{"i":274,"v":-0.000524},{"i":275,"v":-0.000595},{"i":276,"v":-0.000643},{"i":277,"v":-0.000643},{"i":278,"v":-0.000619},{"i":279,"v":-0.000595},
{"i":280,"v":-0.00044},{"i":281,"v":-0.000321},{"i":282,"v":-0.000202},{"i":283,"v":-0.000143},{"i":284,"v":-0.000083},{"i":285,"v":-0.000048},{"i":286,"v":0.000012},{"i":287,"v":0.00019},{"i":288,"v":0.000274},{"i":289,"v":0.000333},
{"i":290,"v":0.000369},{"i":291,"v":0.000393},{"i":292,"v":0.000428},{"i":293,"v":0.000452},{"i":294,"v":0.000488},{"i":295,"v":0.000488},{"i":296,"v":0.000488},{"i":297,"v":0.000476},{"i":298,"v":0.000452},{"i":299,"v":0.000417},
{"i":300,"v":0.000357},{"i":301,"v":0.000274},{"i":302,"v":0.000095},{"i":303,"v":0.000012},{"i":304,"v":0.000024},{"i":305,"v":0.000063}
],
"lines": [
{"i":0,"s":"MACD","v":-0.000357},{"i":4,"s":"MACD","v":-0.000298},{"i":7,"s":"MACD","v":-0.00025},{"i":8,"s":"MACD","v":-0.000393},{"i":10,"s":"MACD","v":-0.000809},{"i":12,"s":"MACD","v":-0.000988},{"i":13,"s":"MACD","v":-0.000809},{"i":16,"s":"MACD","v":-0.00069},{"i":19,"s":"MACD","v":-0.000726},{"i":22,"s":"MACD","v":-0.000809},
{"i":25,"s":"MACD","v":-0.000809},{"i":28,"s":"MACD","v":-0.000928},{"i":32,"s":"MACD","v":-0.000952},{"i":34,"s":"MACD","v":-0.000774},{"i":37,"s":"MACD","v":-0.000512},{"i":39,"s":"MACD","v":-0.000179},{"i":43,"s":"MACD","v":-0.000095},{"i":48,"s":"MACD","v":-0.000036},{"i":50,"s":"MACD","v":0.0},{"i":54,"s":"MACD","v":-0.000071},
{"i":58,"s":"MACD","v":-0.000095},{"i":61,"s":"MACD","v":-0.000155},{"i":63,"s":"MACD","v":-0.000393},{"i":64,"s":"MACD","v":-0.000869},{"i":66,"s":"MACD","v":-0.001166},{"i":68,"s":"MACD","v":-0.001345},{"i":72,"s":"MACD","v":-0.001345},{"i":77,"s":"MACD","v":-0.001309},{"i":80,"s":"MACD","v":-0.00125},{"i":81,"s":"MACD","v":-0.001107},
{"i":83,"s":"MACD","v":-0.000988},{"i":84,"s":"MACD","v":-0.000726},{"i":87,"s":"MACD","v":-0.000333},{"i":88,"s":"MACD","v":0.000083},{"i":91,"s":"MACD","v":0.000321},{"i":95,"s":"MACD","v":0.0005},{"i":99,"s":"MACD","v":0.000559},{"i":103,"s":"MACD","v":0.000559},{"i":107,"s":"MACD","v":0.000417},{"i":109,"s":"MACD","v":0.000559},
{"i":111,"s":"MACD","v":0.000916},{"i":113,"s":"MACD","v":0.001392},{"i":114,"s":"MACD","v":0.001749},{"i":117,"s":"MACD","v":0.001904},{"i":121,"s":"MACD","v":0.001928},{"i":124,"s":"MACD","v":0.001868},{"i":127,"s":"MACD","v":0.001654},{"i":129,"s":"MACD","v":0.00169},{"i":132,"s":"MACD","v":0.001654},{"i":135,"s":"MACD","v":0.00163},
{"i":138,"s":"MACD","v":0.001452},{"i":139,"s":"MACD","v":0.001273},{"i":142,"s":"MACD","v":0.000738},{"i":144,"s":"MACD","v":0.000321},{"i":146,"s":"MACD","v":0.000143},{"i":148,"s":"MACD","v":-0.000095},{"i":150,"s":"MACD","v":-0.00025},{"i":153,"s":"MACD","v":-0.000179},{"i":156,"s":"MACD","v":-0.000155},{"i":157,"s":"MACD","v":-0.000333},
{"i":159,"s":"MACD","v":-0.000571},{"i":161,"s":"MACD","v":-0.000333},{"i":164,"s":"MACD","v":-0.000155},{"i":168,"s":"MACD","v":-0.00006},{"i":171,"s":"MACD","v":0.0},{"i":176,"s":"MACD","v":-0.000012},{"i":179,"s":"MACD","v":-0.000071},{"i":181,"s":"MACD","v":-0.00006},{"i":183,"s":"MACD","v":0.000202},{"i":188,"s":"MACD","v":0.000536},
{"i":193,"s":"MACD","v":0.000702},{"i":196,"s":"MACD","v":0.000619},{"i":200,"s":"MACD","v":0.00044},{"i":203,"s":"MACD","v":0.0005},{"i":205,"s":"MACD","v":0.000678},{"i":208,"s":"MACD","v":0.00044},{"i":209,"s":"MACD","v":0.000333},{"i":213,"s":"MACD","v":0.000179},{"i":218,"s":"MACD","v":0.000119},{"i":222,"s":"MACD","v":0.000036},
{"i":226,"s":"MACD","v":0.000036},{"i":228,"s":"MACD","v":0.00006},{"i":229,"s":"MACD","v":-0.000619},{"i":230,"s":"MACD","v":-0.001333},{"i":233,"s":"MACD","v":-0.002285},{"i":234,"s":"MACD","v":-0.00282},{"i":236,"s":"MACD","v":-0.003118},{"i":238,"s":"MACD","v":-0.003178},{"i":241,"s":"MACD","v":-0.002939},{"i":244,"s":"MACD","v":-0.002701},
{"i":246,"s":"MACD","v":-0.002344},{"i":249,"s":"MACD","v":-0.002023},{"i":253,"s":"MACD","v":-0.001868},{"i":254,"s":"MACD","v":-0.00169},{"i":256,"s":"MACD","v":-0.001785},{"i":258,"s":"MACD","v":-0.001749},{"i":260,"s":"MACD","v":-0.001428},{"i":264,"s":"MACD","v":-0.001154},{"i":268,"s":"MACD","v":-0.00094},{"i":270,"s":"MACD","v":-0.000976},
{"i":273,"s":"MACD","v":-0.001452},{"i":275,"s":"MACD","v":-0.002047},{"i":279,"s":"MACD","v":-0.002666},{"i":282,"s":"MACD","v":-0.002523},{"i":285,"s":"MACD","v":-0.002344},{"i":288,"s":"MACD","v":-0.002106},{"i":291,"s":"MACD","v":-0.00163},{"i":296,"s":"MACD","v":-0.000857},{"i":300,"s":"MACD","v":-0.000583},{"i":302,"s":"MACD","v":-0.000678},
{"i":304,"s":"MACD","v":-0.000797},{"i":305,"s":"MACD","v":-0.000722},
{"i":0,"s":"Signal","v":-0.000333},{"i":7,"s":"Signal","v":-0.000298},{"i":10,"s":"Signal","v":-0.000512},{"i":13,"s":"Signal","v":-0.00069},{"i":18,"s":"Signal","v":-0.000726},{"i":24,"s":"Signal","v":-0.000774},{"i":33,"s":"Signal","v":-0.000904},{"i":35,"s":"Signal","v":-0.000809},{"i":38,"s":"Signal","v":-0.000571},{"i":43,"s":"Signal","v":-0.000345},
{"i":48,"s":"Signal","v":-0.000179},{"i":53,"s":"Signal","v":-0.000095},{"i":58,"s":"Signal","v":-0.000095},{"i":62,"s":"Signal","v":-0.000131},{"i":65,"s":"Signal","v":-0.000631},{"i":68,"s":"Signal","v":-0.001047},{"i":73,"s":"Signal","v":-0.00119},{"i":77,"s":"Signal","v":-0.001261},{"i":80,"s":"Signal","v":-0.00125},{"i":83,"s":"Signal","v":-0.001107},
{"i":87,"s":"Signal","v":-0.00075},{"i":90,"s":"Signal","v":-0.000333},{"i":95,"s":"Signal","v":0.000179},{"i":99,"s":"Signal","v":0.000417},{"i":104,"s":"Signal","v":0.0005},{"i":107,"s":"Signal","v":0.000476},{"i":109,"s":"Signal","v":0.000464},{"i":113,"s":"Signal","v":0.000797},{"i":117,"s":"Signal","v":0.001392},{"i":121,"s":"Signal","v":0.001726},
{"i":125,"s":"Signal","v":0.001773},{"i":129,"s":"Signal","v":0.00169},{"i":133,"s":"Signal","v":0.001666},{"i":138,"s":"Signal","v":0.001607},{"i":141,"s":"Signal","v":0.001273},{"i":145,"s":"Signal","v":0.000797},{"i":149,"s":"Signal","v":0.000262},{"i":154,"s":"Signal","v":-0.000036},{"i":158,"s":"Signal","v":-0.000274},{"i":163,"s":"Signal","v":-0.00025},
{"i":171,"s":"Signal","v":-0.000119},{"i":178,"s":"Signal","v":-0.000036},{"i":182,"s":"Signal","v":-0.00006},{"i":185,"s":"Signal","v":0.000143},{"i":190,"s":"Signal","v":0.0005},{"i":196,"s":"Signal","v":0.000583},{"i":204,"s":"Signal","v":0.000536},{"i":209,"s":"Signal","v":0.000536},{"i":213,"s":"Signal","v":0.000357},{"i":218,"s":"Signal","v":0.000214},
{"i":224,"s":"Signal","v":0.000036},{"i":228,"s":"Signal","v":0.00006},{"i":230,"s":"Signal","v":-0.000381},{"i":233,"s":"Signal","v":-0.001333},{"i":236,"s":"Signal","v":-0.002047},{"i":239,"s":"Signal","v":-0.002523},{"i":241,"s":"Signal","v":-0.002761},{"i":244,"s":"Signal","v":-0.002761},{"i":248,"s":"Signal","v":-0.002523},{"i":253,"s":"Signal","v":-0.002225},
{"i":256,"s":"Signal","v":-0.001987},{"i":259,"s":"Signal","v":-0.001868},{"i":264,"s":"Signal","v":-0.001511},{"i":268,"s":"Signal","v":-0.001119},{"i":272,"s":"Signal","v":-0.001154},{"i":276,"s":"Signal","v":-0.00169},{"i":280,"s":"Signal","v":-0.002225},{"i":283,"s":"Signal","v":-0.00238},{"i":286,"s":"Signal","v":-0.002344},{"i":290,"s":"Signal","v":-0.002106},
{"i":295,"s":"Signal","v":-0.001511},{"i":299,"s":"Signal","v":-0.001047},{"i":301,"s":"Signal","v":-0.000868},{"i":304,"s":"Signal","v":-0.000809},{"i":305,"s":"Signal","v":-0.000785},
{"i":0,"s":"Osc","v":0.000024},{"i":7,"s":"Osc","v":0.000083},{"i":9,"s":"Osc","v":-0.000214},{"i":13,"s":"Osc","v":-0.000607},{"i":18,"s":"Osc","v":-0.000512},{"i":23,"s":"Osc","v":0.000083},{"i":25,"s":"Osc","v":-0.000036},{"i":28,"s":"Osc","v":-0.00025},{"i":33,"s":"Osc","v":-0.000155},{"i":35,"s":"Osc","v":0.000024},
{"i":38,"s":"Osc","v":0.0005},{"i":42,"s":"Osc","v":0.000774},{"i":46,"s":"Osc","v":0.000619},{"i":50,"s":"Osc","v":0.000202},{"i":56,"s":"Osc","v":-0.000036},{"i":60,"s":"Osc","v":-0.000155},{"i":63,"s":"Osc","v":-0.000393},{"i":66,"s":"Osc","v":-0.000928},{"i":68,"s":"Osc","v":-0.001226},{"i":72,"s":"Osc","v":-0.001166},
{"i":74,"s":"Osc","v":-0.00075},{"i":78,"s":"Osc","v":-0.000155},{"i":80,"s":"Osc","v":0.000083},{"i":84,"s":"Osc","v":0.0005},{"i":88,"s":"Osc","v":0.000976},{"i":91,"s":"Osc","v":0.001369},{"i":94,"s":"Osc","v":0.001273},{"i":98,"s":"Osc","v":0.000559},{"i":103,"s":"Osc","v":0.000143},{"i":107,"s":"Osc","v":-0.00006},
{"i":109,"s":"Osc","v":-0.000036},{"i":113,"s":"Osc","v":0.000678},{"i":116,"s":"Osc","v":0.001273},{"i":119,"s":"Osc","v":0.001416},{"i":122,"s":"Osc","v":0.001273},{"i":124,"s":"Osc","v":0.000559},{"i":128,"s":"Osc","v":-0.000214},{"i":132,"s":"Osc","v":-0.00025},{"i":136,"s":"Osc","v":-0.000131},{"i":139,"s":"Osc","v":-0.000274},
{"i":142,"s":"Osc","v":-0.00075},{"i":146,"s":"Osc","v":-0.001226},{"i":149,"s":"Osc","v":-0.001547},{"i":151,"s":"Osc","v":-0.001345},{"i":154,"s":"Osc","v":-0.000655},{"i":158,"s":"Osc","v":-0.000333},{"i":160,"s":"Osc","v":-0.000333},{"i":163,"s":"Osc","v":-0.000155},{"i":167,"s":"Osc","v":0.000083},{"i":170,"s":"Osc","v":0.000381},
{"i":173,"s":"Osc","v":0.000262},{"i":178,"s":"Osc","v":0.000024},{"i":181,"s":"Osc","v":-0.00006},{"i":184,"s":"Osc","v":0.000202},{"i":188,"s":"Osc","v":0.000524},{"i":191,"s":"Osc","v":0.000762},{"i":193,"s":"Osc","v":0.000702},{"i":198,"s":"Osc","v":0.000083},{"i":203,"s":"Osc","v":-0.000298},{"i":207,"s":"Osc","v":-0.000036},
{"i":209,"s":"Osc","v":-0.000024},{"i":213,"s":"Osc","v":-0.000262},{"i":217,"s":"Osc","v":-0.000524},{"i":222,"s":"Osc","v":-0.000286},{"i":227,"s":"Osc","v":-0.000083},{"i":228,"s":"Osc","v":0.0},{"i":231,"s":"Osc","v":-0.001095},{"i":234,"s":"Osc","v":-0.002523},{"i":238,"s":"Osc","v":-0.003213},{"i":240,"s":"Osc","v":-0.002523},
{"i":243,"s":"Osc","v":-0.000976},{"i":245,"s":"Osc","v":0.000274},{"i":248,"s":"Osc","v":0.000809},{"i":250,"s":"Osc","v":0.001023},{"i":254,"s":"Osc","v":0.000928},{"i":258,"s":"Osc","v":0.000547},{"i":261,"s":"Osc","v":0.000536},{"i":264,"s":"Osc","v":0.000607},{"i":268,"s":"Osc","v":0.000785},{"i":271,"s":"Osc","v":0.000452},
{"i":274,"s":"Osc","v":-0.000381},{"i":277,"s":"Osc","v":-0.001154},{"i":280,"s":"Osc","v":-0.001666},{"i":283,"s":"Osc","v":-0.001095},{"i":287,"s":"Osc","v":0.000095},{"i":292,"s":"Osc","v":0.000988},{"i":296,"s":"Osc","v":0.001345},{"i":298,"s":"Osc","v":0.001345},{"i":301,"s":"Osc","v":0.001107},{"i":305,"s":"Osc","v":0.000352}
]
},
"vconcat": [
{
  "width": 1231, "height": 610,
  "layer": [
    {"data": {"name": "candles"},
     "mark": {"type": "rule", "strokeWidth": 1},
     "encoding": {
       "x": {"field": "i", "type": "quantitative", "scale": {"domain": [-0.375, 307.375], "nice": false, "zero": false}, "axis": null},
       "y": {"field": "l", "type": "quantitative", "scale": {"domain": [1.06143, 1.08979], "nice": false, "zero": false},
             "axis": {"orient": "right", "values": [1.0892, 1.0877, 1.08615, 1.0846, 1.08305, 1.08155, 1.08, 1.07845, 1.07695, 1.0754, 1.07385, 1.0723, 1.0708, 1.06925, 1.0677, 1.06615, 1.06305, 1.0615], "tickCount": 60, "format": ".5f", "labelPadding": 3}},
       "y2": {"field": "h"},
       "color": {"condition": {"test": "datum.c >= datum.o", "value": "#c4c4c4"}, "value": "#707070"}
     }},
    {"data": {"name": "one"},
     "mark": {"type": "rule", "color": "#d4d4d4", "strokeWidth": 1},
     "encoding": {"y": {"datum": 1.06438, "type": "quantitative"}}},
    {"data": {"name": "candles"},
     "mark": {"type": "bar", "width": 3},
     "encoding": {
       "x": {"field": "i", "type": "quantitative"},
       "y": {"field": "o", "type": "quantitative"},
       "y2": {"field": "c"},
       "color": {"condition": {"test": "datum.c >= datum.o", "value": "#c4c4c4"}, "value": "#707070"}
     }},
    {"data": {"name": "one"},
     "mark": {"type": "rect", "color": "#8c8c8c"},
     "encoding": {"x": {"datum": 307.375, "type": "quantitative"}, "x2": {"datum": 318.375}, "y": {"datum": 1.06408, "type": "quantitative"}, "y2": {"datum": 1.06468}}},
    {"data": {"name": "one"},
     "mark": {"type": "text", "color": "#ffffff", "fontSize": 8, "font": "DejaVu Sans", "align": "center", "baseline": "middle"},
     "encoding": {"x": {"datum": 312.9, "type": "quantitative"}, "y": {"datum": 1.06438, "type": "quantitative"}, "text": {"value": "1.06438"}}},
    {"data": {"name": "one"},
     "mark": {"type": "point", "shape": "triangle-down", "filled": true, "color": "#80808f", "size": 18, "opacity": 1},
     "encoding": {"x": {"datum": 1.5, "type": "quantitative"}, "y": {"datum": 1.08946, "type": "quantitative"}}},
    {"data": {"name": "one"},
     "mark": {"type": "text", "color": "#80808f", "fontSize": 9, "font": "DejaVu Sans", "align": "left", "baseline": "middle"},
     "encoding": {"x": {"datum": 3.6, "type": "quantitative"}, "y": {"datum": 1.08946, "type": "quantitative"}, "text": {"value": "EURUSD,H1"}}}
  ]
},
{
  "width": 1231, "height": 161,
  "layer": [
    {"data": {"name": "hist"},
     "mark": {"type": "rule", "strokeWidth": 2, "color": "#c0c0c0", "xOffset": 0.5},
     "encoding": {
       "x": {"field": "i", "type": "quantitative", "scale": {"domain": [-0.375, 307.375], "nice": false, "zero": false},
             "axis": {"orient": "bottom", "values": [0, 16, 32, 48, 64, 80, 96, 112, 128, 144, 160, 176, 192, 208, 224, 240, 256, 272, 288, 304], "tickCount": 60,
                      "labelExpr": "['28 Mar 2024','28 Mar 17:00','29 Mar 09:00','1 Apr 02:00','1 Apr 18:00','2 Apr 10:00','3 Apr 02:00','3 Apr 18:00','4 Apr 10:00','5 Apr 02:00','5 Apr 18:00','8 Apr 10:00','9 Apr 02:00','9 Apr 18:00','10 Apr 10:00','11 Apr 02:00','11 Apr 18:00','12 Apr 10:00','15 Apr 02:00','15 Apr 18:00'][round(datum.value/16)]",
                      "labelAlign": "left", "labelPadding": 0, "labelBound": false, "labelFlush": false}},
       "y": {"field": "v", "type": "quantitative", "scale": {"domain": [-0.003527, 0.002203], "nice": false, "zero": false},
             "axis": {"orient": "right", "values": [-0.003527, 0, 0.002203], "tickCount": 10, "labelExpr": "datum.value == 0 ? '0.00' : format(datum.value, '.6f')", "labelFlush": true, "labelPadding": 0, "labelFontSize": 7.6}},
       "y2": {"datum": 0}
     }},
    {"data": {"name": "one"},
     "mark": {"type": "rule", "color": "#b4b4b4", "strokeDash": [2, 2], "strokeWidth": 1},
     "encoding": {"y": {"datum": 0, "type": "quantitative"}}},
    {"data": {"name": "lines"},
     "mark": {"type": "line", "strokeWidth": 1, "interpolate": "monotone"},
     "encoding": {
       "x": {"field": "i", "type": "quantitative"},
       "y": {"field": "v", "type": "quantitative"},
       "color": {"field": "s", "type": "nominal", "scale": {"domain": ["Osc", "MACD", "Signal"], "range": ["#ffd700", "#1e90ff", "#b01c1c"]}, "legend": null}
     }},
    {"data": {"name": "one"},
     "mark": {"type": "text", "color": "#80808f", "fontSize": 8, "font": "DejaVu Sans", "align": "left", "baseline": "middle"},
     "encoding": {"x": {"datum": 0.9, "type": "quantitative"}, "y": {"datum": 0.00188, "type": "quantitative"}, "text": {"value": "MACD(12,26,9) -0.000722 -0.000785 0.000063 0.000263 0.000352"}}}
  ]
}
],
"resolve": {"scale": {"x": "independent", "y": "independent"}}
}
